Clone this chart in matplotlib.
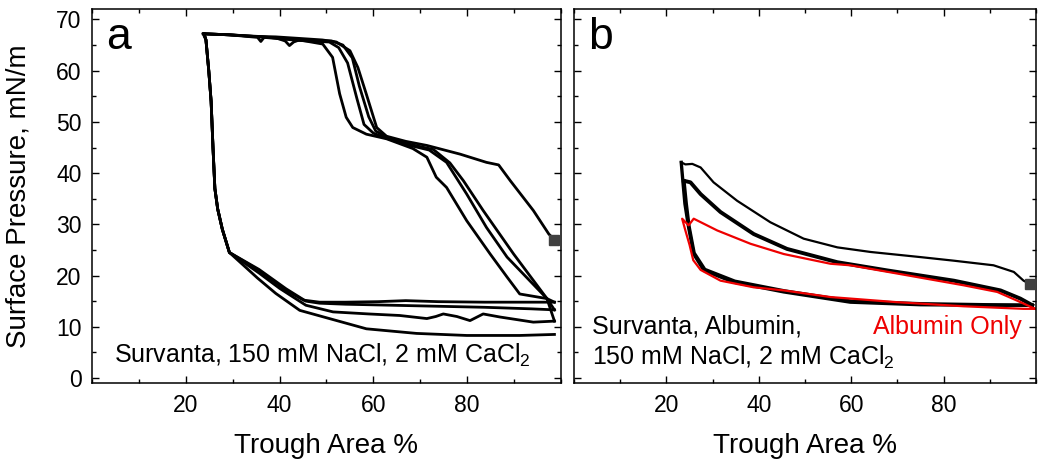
"""
Isotermas de compresion-expansion: Survanta (a) y Survanta + albumina (b).
"""
import matplotlib
matplotlib.use("Agg")
import matplotlib.pyplot as plt
from matplotlib.ticker import MultipleLocator

plt.rcParams["font.family"] = ["Liberation Sans", "DejaVu Sans"]
plt.rcParams["mathtext.default"] = "regular"

# ---- panel a: Survanta, 150 mM NaCl, 2 mM CaCl2 ----
# compresiones (area decreciente)
a_c1_x = [98.6, 97.4, 94.1, 89.2, 86.7, 84.1, 78.5, 71.4, 66.9, 62.8, 60.7, 58.5, 56.7, 55.0, 52.1, 49.1, 44.2, 39.2, 35.3, 29.3, 23.7]
a_c1_y = [27.0, 28.1, 32.7, 38.5, 41.6, 42.1, 43.7, 45.4, 46.2, 47.2, 48.9, 55.4, 60.6, 63.9, 65.6, 66.0, 66.3, 66.6, 66.7, 67.0, 67.2]
a_c2_x = [98.6, 97.0, 91.2, 88.5, 84.9, 79.9, 75.6, 73.4, 71.4, 68.4, 62.8, 58.5, 55.6, 54.2, 52.8, 51.3, 49.2, 44.2, 43.0, 42.1, 41.2, 39.2, 34.3, 29.3, 23.9]
a_c2_y = [14.8, 15.5, 16.4, 19.7, 24.2, 30.7, 37.2, 39.2, 43.1, 44.8, 46.7, 47.6, 48.9, 50.9, 55.5, 62.6, 65.2, 66.0, 65.6, 64.9, 65.8, 66.4, 66.7, 67.0, 67.2]
a_c3_x = [98.6, 97.0, 88.5, 84.1, 79.9, 75.6, 71.9, 66.9, 62.5, 60.0, 58.0, 56.5, 54.5, 52.6, 50.6, 44.2, 39.2, 36.7, 36.0, 35.3, 29.3, 23.9]
a_c3_y = [13.3, 15.5, 23.6, 29.4, 35.9, 42.1, 44.5, 45.6, 46.9, 47.8, 49.5, 54.5, 61.5, 64.5, 65.6, 65.9, 66.3, 66.5, 65.7, 66.5, 67.0, 67.2]
a_c4_x = [98.6, 97.0, 89.9, 83.4, 79.2, 76.3, 72.8, 66.9, 63.0, 60.5, 59.0, 57.0, 55.5, 53.5, 51.1, 44.2, 39.2, 34.3, 29.3, 23.9]
a_c4_y = [11.1, 15.5, 24.2, 32.7, 38.5, 42.0, 44.6, 45.8, 47.0, 48.2, 51.0, 57.0, 62.5, 65.0, 65.8, 66.0, 66.4, 66.7, 67.0, 67.2]
# expansiones (area creciente)
a_e1_x = [23.7, 24.3, 24.9, 25.4, 25.8, 26.2, 26.8, 27.8, 29.3, 35.6, 41.4, 45.1, 48.5, 54.0, 61.0, 66.9, 73.8, 83.7, 90.6, 98.6]
a_e1_y = [67.2, 66.0, 60.0, 54.0, 45.0, 37.0, 33.0, 29.0, 24.5, 21.0, 17.1, 15.2, 14.8, 14.8, 14.9, 15.1, 14.9, 14.8, 14.8, 14.8]
a_e2_x = [23.9, 24.3, 24.9, 25.4, 25.8, 26.2, 26.8, 27.8, 29.3, 35.6, 41.4, 45.6, 48.5, 54.0, 63.9, 73.8, 83.7, 93.6, 98.6]
a_e2_y = [67.2, 66.0, 60.0, 54.0, 45.0, 37.0, 33.0, 29.0, 24.5, 21.2, 17.4, 15.0, 14.6, 14.4, 14.2, 14.0, 13.8, 13.5, 13.3]
a_e3_x = [23.9, 24.3, 24.9, 25.4, 25.8, 26.2, 26.8, 27.8, 29.3, 35.6, 40.0, 45.6, 51.4, 59.0, 65.6, 71.4, 73.3, 74.9, 77.8, 80.6, 83.4, 87.0, 94.1, 98.6]
a_e3_y = [67.2, 66.0, 60.0, 54.0, 45.0, 37.0, 33.0, 29.0, 24.5, 20.5, 17.5, 14.2, 12.9, 12.5, 12.2, 11.6, 12.0, 12.5, 12.0, 11.2, 12.5, 11.9, 10.9, 11.1]
a_e4_x = [23.9, 24.3, 24.9, 25.4, 25.8, 26.2, 26.8, 27.8, 29.3, 35.3, 39.2, 44.3, 51.4, 58.5, 69.2, 79.9, 91.2, 98.6]
a_e4_y = [67.2, 66.0, 60.0, 54.0, 45.0, 37.0, 33.0, 29.0, 24.5, 19.5, 16.5, 13.2, 11.4, 9.6, 8.7, 8.3, 8.3, 8.5]
a_inicio = (98.6, 27.0)

# ---- panel b: Survanta + albumina ----
b_c1_x = [98.6, 97.3, 95.2, 90.8, 82.2, 75.0, 64.2, 57.0, 49.7, 42.5, 35.3, 30.2, 27.4, 25.6, 24.1, 23.2]
b_c1_y = [18.4, 19.0, 20.7, 22.0, 22.9, 23.6, 24.6, 25.5, 27.2, 30.4, 34.6, 38.2, 41.1, 41.8, 41.7, 42.1]
b_e1_x = [23.2, 23.6, 24.0, 24.8, 25.9, 28.1, 34.6, 45.4, 59.8, 75.0, 89.4, 99.2]
b_e1_y = [42.1, 38.0, 34.0, 29.4, 24.2, 21.0, 18.7, 16.8, 14.8, 14.3, 14.2, 14.2]
b_c2_x = [99.2, 96.6, 92.3, 82.2, 67.8, 57.0, 46.1, 38.9, 31.7, 27.4, 25.2, 23.8]
b_c2_y = [14.2, 15.5, 17.1, 19.0, 21.0, 22.6, 25.2, 28.1, 32.4, 35.9, 38.2, 38.5]
b_e2_x = [23.8, 24.3, 24.9, 26.0, 28.3, 34.8, 45.6, 60.0, 75.0, 89.4, 99.2]
b_e2_y = [38.5, 34.0, 29.6, 24.4, 21.2, 18.9, 17.0, 15.0, 14.5, 14.3, 14.2]
alb_x = [99.8, 95.9, 91.6, 84.3, 69.9, 59.8, 55.5, 45.4, 38.2, 31.0, 25.9, 24.8, 23.4,
         24.1, 25.0, 25.8, 27.4, 31.7, 38.9, 45.4, 55.5, 69.9, 84.3, 97.3, 99.8]
alb_y = [13.5, 15.1, 16.8, 18.1, 20.4, 22.0, 22.3, 24.2, 26.2, 28.8, 31.1, 29.8, 31.1,
         28.8, 26.0, 23.0, 21.1, 19.0, 17.7, 17.1, 15.8, 14.8, 14.0, 13.5, 13.5]
b_inicio = (98.6, 18.4)

fig = plt.figure(figsize=(10.5, 4.61), dpi=100)
ax_a = fig.add_axes([0.0876, 0.169, 0.4467, 0.811])
ax_b = fig.add_axes([0.5467, 0.169, 0.44, 0.811])

for x, y in [(a_c1_x, a_c1_y), (a_c2_x, a_c2_y), (a_c3_x, a_c3_y), (a_c4_x, a_c4_y),
             (a_e1_x, a_e1_y), (a_e2_x, a_e2_y), (a_e3_x, a_e3_y), (a_e4_x, a_e4_y)]:
    ax_a.plot(x, y, color="black", lw=2.0, solid_joinstyle="round")
ax_a.plot(*a_inicio, "s", color="#404040", ms=7, clip_on=False, zorder=5)

ax_b.plot(b_c1_x, b_c1_y, color="black", lw=1.6)
ax_b.plot(b_e1_x, b_e1_y, color="black", lw=2.4)
ax_b.plot(b_c2_x, b_c2_y, color="black", lw=2.8)
ax_b.plot(b_e2_x, b_e2_y, color="black", lw=2.4)
ax_b.plot(alb_x, alb_y, color="#ee0000", lw=1.6)
ax_b.plot(*b_inicio, "s", color="#404040", ms=7, clip_on=False, zorder=5)

for ax in (ax_a, ax_b):
    ax.set_xlim(0, 100)
    ax.set_ylim(-1, 72)
    ax.xaxis.set_major_locator(MultipleLocator(20))
    ax.xaxis.set_minor_locator(MultipleLocator(10))
    ax.yaxis.set_major_locator(MultipleLocator(10))
    ax.yaxis.set_minor_locator(MultipleLocator(5))
    ax.set_xticks([20, 40, 60, 80])
    ax.tick_params(which="both", direction="in", top=True, right=True, width=1.0,
                   labelsize=16.5, pad=7.5)
    ax.tick_params(which="major", length=5)
    ax.tick_params(which="minor", length=3)
    for s in ax.spines.values():
        s.set_linewidth(1.1)
    ax.set_xlabel("Trough Area %", fontsize=20, labelpad=12)

ax_b.tick_params(labelleft=False)
ax_a.set_ylabel("Surface Pressure, mN/m", fontsize=20)
ax_a.yaxis.set_label_coords(-0.13, 0.5)

ax_a.text(3.0, 70.5, "a", fontsize=32, va="top")
ax_b.text(3.0, 70.5, "b", fontsize=32, va="top")
ax_a.text(4.6, 2.9, "Survanta, 150 mM NaCl, 2 mM CaCl$_2$", fontsize=18)
ax_b.text(3.9, 8.65, "Survanta, Albumin,", fontsize=18)
ax_b.text(3.9, 2.5, "150 mM NaCl, 2 mM CaCl$_2$", fontsize=18)
ax_b.text(97, 8.65, "Albumin Only", fontsize=18, color="#ee0000", ha="right")

plt.savefig("out.png", dpi=100)
